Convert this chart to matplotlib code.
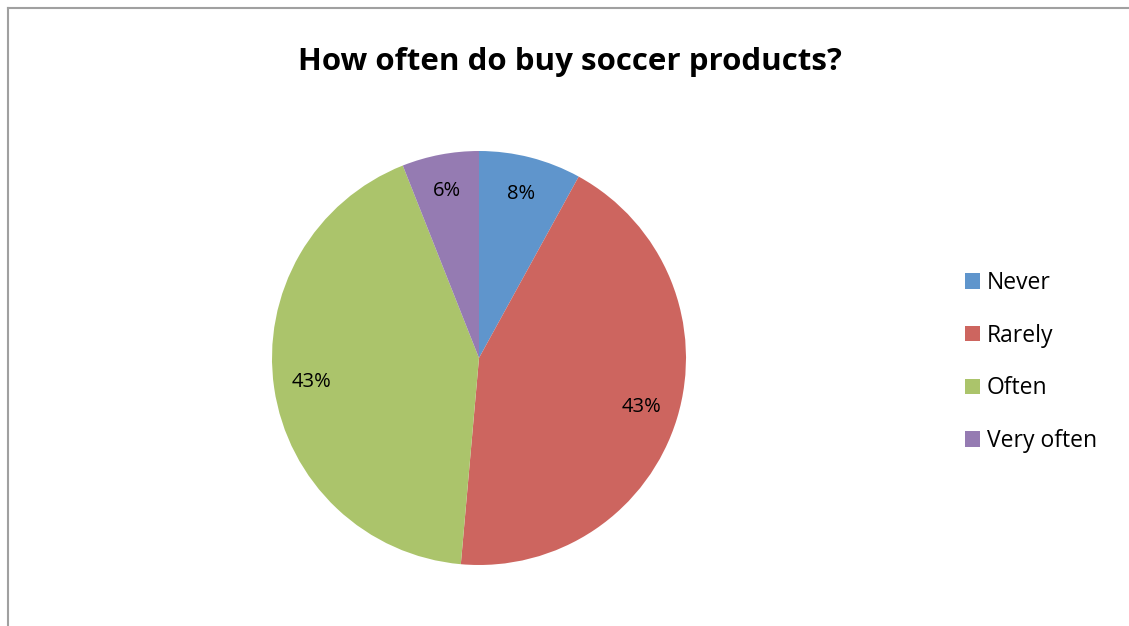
import matplotlib.pyplot as plt
from matplotlib.lines import Line2D

# ---- DATA ----
categories = ["Never", "Rarely", "Often", "Very often"]
shares = [8.0, 43.4, 42.6, 6.0]
colors = ["#5F95CC", "#CD655F", "#ABC46B", "#957BB2"]

plt.rcParams['font.family'] = ['Open Sans', 'DejaVu Sans']

W, H = 1129, 626
fig = plt.figure(figsize=(W / 100, H / 100), dpi=100)

# chart border (left + top only visible)
fig.add_artist(Line2D([7.5 / W, 7.5 / W], [0, 1 - 8 / H], color="#A0A0A0", lw=1.5))
fig.add_artist(Line2D([7.5 / W, 1], [1 - 8 / H, 1 - 8 / H], color="#A0A0A0", lw=1.5))

cx, cy, r = 479, 358, 207
ax = fig.add_axes([(cx - r) / W, (H - cy - r) / H, 2 * r / W, 2 * r / H])
wedges, _, autotexts = ax.pie(shares, colors=colors, startangle=90, counterclock=False,
                              autopct=lambda p: f"{p:.0f}%", pctdistance=0.82,
                              radius=1.0, textprops=dict(fontsize=14.5, color="black"),
                              wedgeprops=dict(linewidth=0))
ax.set_xlim(-1, 1)
ax.set_ylim(-1, 1)
ax.set_aspect("equal")

fig.text(570 / W, 1 - 62 / H, "How often do buy soccer products?", ha="center", va="center",
         fontsize=22.5, fontweight="bold")

fig.legend(wedges, categories, loc="center left", bbox_to_anchor=(965 / W, 1 - 362 / H),
           frameon=False, fontsize=16.5, handlelength=0.65, handleheight=0.65,
           handletextpad=0.3, labelspacing=1.25, borderaxespad=0, borderpad=0)

fig.savefig("out.png", dpi=100)
